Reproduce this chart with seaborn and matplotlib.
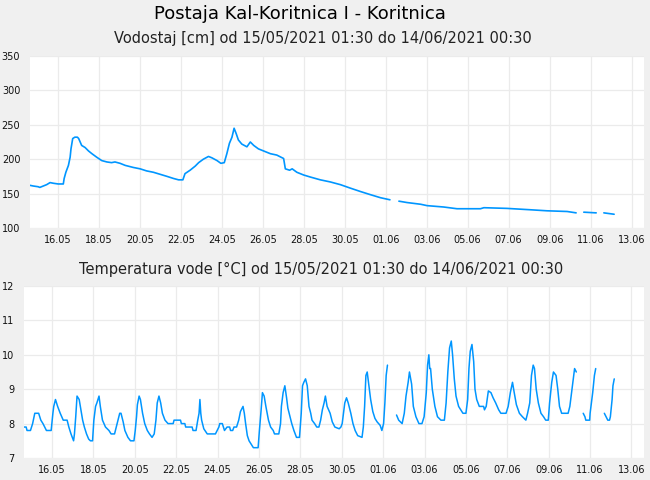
import numpy as np
import pandas as pd
import matplotlib
matplotlib.use("Agg")
import matplotlib.pyplot as plt
import seaborn as sns

# vodostaj [cm], None = missing data (line break)
level_times = [
    "05-15 01:30", "05-15 05:30", "05-15 11:00", "05-15 13:00", "05-15 17:00", "05-15 21:00",
    "05-16 01:00", "05-16 05:00", "05-16 10:30", "05-16 16:30", "05-16 17:30", "05-16 19:30",
    "05-16 22:30", "05-17 00:30", "05-17 01:30", "05-17 03:30", "05-17 06:00", "05-17 09:00",
    "05-17 10:30", "05-17 14:00", "05-17 18:00", "05-17 22:00", "05-18 02:00", "05-18 07:30",
    "05-18 13:30", "05-18 19:30", "05-19 01:00", "05-19 05:00", "05-19 11:00", "05-19 17:00",
    "05-20 02:30", "05-20 10:30", "05-20 18:00", "05-21 02:00", "05-21 10:00", "05-21 18:00",
    "05-22 01:30", "05-22 07:30", "05-22 12:30", "05-22 15:00", "05-22 21:00", "05-23 03:00",
    "05-23 07:00", "05-23 12:30", "05-23 18:30", "05-23 22:30", "05-24 04:30", "05-24 09:00",
    "05-24 13:00", "05-24 16:00", "05-24 19:00", "05-24 22:00", "05-25 00:30", "05-25 03:00",
    "05-25 05:30", "05-25 09:30", "05-25 15:30", "05-25 19:30", "05-25 23:30", "05-26 05:00",
    "05-26 11:00", "05-26 19:00", "05-27 02:30", "05-27 10:30", "05-27 12:30", "05-27 17:30",
    "05-27 20:30", "05-28 02:00", "05-28 10:00", "05-28 18:00", "05-29 05:30", "05-29 17:00",
    "05-30 05:00", "05-30 16:30", "05-31 04:30", "05-31 16:00", "06-01 04:00", "06-01 15:00",
    "06-01 20:00",
    "06-02 01:30", "06-02 11:00", "06-03 03:00", "06-03 10:30", "06-04 06:00", "06-04 21:30",
    "06-06 01:00", "06-06 05:00", "06-07 08:00", "06-08 11:30", "06-09 07:00", "06-10 06:30",
    "06-10 17:00",
    "06-10 21:00",
    "06-11 02:00", "06-11 16:30",
    "06-11 21:00",
    "06-12 01:30", "06-12 13:30",
]
level_cm = [
    162, 161, 160, 159, 161, 163,
    166, 165, 164, 164, 172, 181,
    191, 203, 215, 230, 232, 232,
    230, 220, 217, 212, 208, 203,
    198, 196, 195, 196, 194, 191,
    188, 186, 183, 181, 178, 175,
    172, 170, 170, 179, 184, 190,
    195, 200, 204, 202, 198, 194,
    195, 208, 223, 232, 245, 237,
    228, 222, 218, 225, 220, 215,
    212, 208, 206, 201, 186, 184,
    186, 181, 177, 174, 170, 167,
    163, 158, 153, 148.5, 144, 141,
    None,
    139, 137, 134.5, 132.5, 130.5, 128,
    128, 129.5, 128.5, 126.5, 125, 124,
    122,
    None,
    123, 122,
    None,
    122, 120,
]

# temperatura vode [°C]
temp_times = [
    "05-15 01:30", "05-15 04:00", "05-15 05:00", "05-15 09:00", "05-15 11:30", "05-15 14:00",
    "05-15 18:30", "05-15 21:00", "05-15 23:30", "05-16 03:30", "05-16 09:00", "05-16 11:00",
    "05-16 12:00", "05-16 14:00", "05-16 16:30", "05-16 19:30", "05-16 23:00", "05-17 03:30",
    "05-17 05:30", "05-17 08:00", "05-17 11:00", "05-17 12:00", "05-17 13:30", "05-17 15:00",
    "05-17 17:30", "05-17 19:30", "05-17 21:30", "05-17 23:30", "05-18 02:00", "05-18 04:30",
    "05-18 06:30", "05-18 09:00", "05-18 10:30", "05-18 12:30", "05-18 14:00", "05-18 16:30",
    "05-18 18:00", "05-18 20:30", "05-19 00:00", "05-19 04:00", "05-19 06:30", "05-19 10:30",
    "05-19 13:30", "05-19 16:30", "05-19 18:00", "05-19 20:30", "05-19 22:30", "05-20 02:00",
    "05-20 05:00", "05-20 09:00", "05-20 10:30", "05-20 12:00", "05-20 13:00", "05-20 15:00",
    "05-20 16:30", "05-20 19:00", "05-20 21:30", "05-21 00:30", "05-21 03:00", "05-21 06:00",
    "05-21 08:30", "05-21 10:30", "05-21 12:00", "05-21 14:00", "05-21 16:00", "05-21 18:00",
    "05-21 21:00", "05-22 00:30", "05-22 06:30", "05-22 07:30", "05-22 15:00", "05-22 16:00",
    "05-22 20:00", "05-22 21:00", "05-23 04:30", "05-23 05:30", "05-23 09:00", "05-23 11:00",
    "05-23 12:30", "05-23 13:30", "05-23 14:30", "05-23 15:30", "05-23 18:00", "05-23 22:00",
    "05-24 07:30", "05-24 09:30", "05-24 11:30", "05-24 12:30", "05-24 15:30", "05-24 18:00",
    "05-24 21:00", "05-25 00:00", "05-25 01:00", "05-25 03:30", "05-25 05:00", "05-25 08:00",
    "05-25 10:30", "05-25 12:30", "05-25 15:30", "05-25 17:00", "05-25 18:30", "05-25 20:30",
    "05-25 22:30", "05-26 01:00", "05-26 03:30", "05-26 09:00", "05-26 10:30", "05-26 12:30",
    "05-26 14:00", "05-26 16:00", "05-26 18:00", "05-26 21:00", "05-26 23:30", "05-27 02:30",
    "05-27 04:00", "05-27 09:00", "05-27 11:00", "05-27 12:00", "05-27 14:00", "05-27 16:00",
    "05-27 18:00", "05-27 19:30", "05-27 22:00", "05-28 00:00", "05-28 02:30", "05-28 05:30",
    "05-28 09:00", "05-28 11:00", "05-28 12:30", "05-28 14:00", "05-28 16:00", "05-28 18:00",
    "05-28 20:00", "05-28 22:00", "05-28 23:30", "05-29 02:30", "05-29 05:00", "05-29 07:30",
    "05-29 09:30", "05-29 11:30", "05-29 13:30", "05-29 15:00", "05-29 17:00", "05-29 20:30",
    "05-29 23:00", "05-30 02:00", "05-30 07:00", "05-30 09:00", "05-30 10:30", "05-30 12:00",
    "05-30 13:30", "05-30 15:30", "05-30 17:30", "05-30 20:30", "05-30 23:00", "05-31 01:30",
    "05-31 04:30", "05-31 09:30", "05-31 11:00", "05-31 12:30", "05-31 14:00", "05-31 15:30",
    "05-31 17:00", "05-31 19:30", "05-31 22:00", "06-01 00:30", "06-01 03:00", "06-01 06:30",
    "06-01 08:30", "06-01 10:30", "06-01 12:00", "06-01 13:30", "06-01 15:00",
    "06-01 20:00",
    "06-02 01:30", "06-02 04:00", "06-02 08:00", "06-02 10:30", "06-02 12:30", "06-02 15:00",
    "06-02 16:30", "06-02 19:00", "06-02 21:00", "06-03 00:00", "06-03 03:30", "06-03 07:00",
    "06-03 09:30", "06-03 12:00", "06-03 13:30", "06-03 15:00", "06-03 16:00", "06-03 17:00",
    "06-03 19:00", "06-03 22:00", "06-04 01:00", "06-04 05:00", "06-04 09:00", "06-04 11:00",
    "06-04 13:00", "06-04 15:00", "06-04 17:00", "06-04 18:30", "06-04 20:30", "06-04 22:30",
    "06-05 01:30", "06-05 04:00", "06-05 06:30", "06-05 10:00", "06-05 12:00", "06-05 13:30",
    "06-05 15:00", "06-05 17:00", "06-05 19:00", "06-05 20:30", "06-05 22:30", "06-06 01:30",
    "06-06 06:30", "06-06 07:30", "06-06 09:30", "06-06 12:00", "06-06 15:00", "06-06 17:30",
    "06-06 20:30", "06-07 00:00", "06-07 02:30", "06-07 08:30", "06-07 11:00", "06-07 13:30",
    "06-07 16:00", "06-07 18:00", "06-07 20:30", "06-08 00:00", "06-08 03:30", "06-08 07:30",
    "06-08 09:30", "06-08 12:00", "06-08 14:00", "06-08 16:00", "06-08 17:30", "06-08 19:30",
    "06-08 22:00", "06-09 01:00", "06-09 04:00", "06-09 06:30", "06-09 09:30", "06-09 11:00",
    "06-09 13:30", "06-09 15:30", "06-09 18:30", "06-09 20:30", "06-09 22:30", "06-10 01:00",
    "06-10 03:00", "06-10 08:30", "06-10 10:30", "06-10 12:30", "06-10 14:30", "06-10 16:00",
    "06-10 18:00",
    "06-10 21:00",
    "06-11 02:00", "06-11 04:00", "06-11 05:00", "06-11 09:30", "06-11 10:00", "06-11 13:00",
    "06-11 15:00", "06-11 16:30",
    "06-11 21:00",
    "06-12 02:30", "06-12 04:30", "06-12 06:30", "06-12 08:30", "06-12 09:30", "06-12 11:30",
    "06-12 12:30", "06-12 14:00",
]
temp_c = [
    7.9, 7.9, 7.8, 7.8, 8.0, 8.3,
    8.3, 8.1, 8.0, 7.8, 7.8, 8.3,
    8.5, 8.7, 8.5, 8.3, 8.1, 8.1,
    7.9, 7.7, 7.5, 7.7, 8.2, 8.8,
    8.7, 8.4, 8.1, 7.9, 7.7, 7.55,
    7.5, 7.5, 8.1, 8.5, 8.6, 8.8,
    8.5, 8.1, 7.9, 7.8, 7.7, 7.7,
    8.0, 8.3, 8.3, 8.05, 7.8, 7.6,
    7.5, 7.5, 7.8, 8.2, 8.55, 8.8,
    8.7, 8.3, 8.0, 7.8, 7.7, 7.6,
    7.7, 8.1, 8.6, 8.8, 8.6, 8.3,
    8.1, 8.0, 8.0, 8.1, 8.1, 8.0,
    8.0, 7.9, 7.9, 7.8, 7.8, 8.1,
    8.3, 8.7, 8.3, 8.1, 7.85, 7.7,
    7.7, 7.8, 7.9, 8.0, 8.0, 7.8,
    7.9, 7.9, 7.8, 7.8, 7.9, 7.9,
    8.1, 8.35, 8.5, 8.3, 8.0, 7.65,
    7.5, 7.4, 7.3, 7.3, 7.8, 8.4,
    8.9, 8.8, 8.5, 8.1, 7.9, 7.8,
    7.7, 7.7, 8.0, 8.5, 8.9, 9.1,
    8.75, 8.45, 8.2, 8.0, 7.8, 7.6,
    7.6, 8.3, 9.1, 9.2, 9.3, 9.1,
    8.5, 8.3, 8.1, 8.0, 7.9, 7.9,
    8.1, 8.4, 8.6, 8.8, 8.5, 8.3,
    8.05, 7.9, 7.85, 7.9, 8.0, 8.3,
    8.6, 8.75, 8.6, 8.3, 8.0, 7.8,
    7.65, 7.6, 7.9, 8.5, 9.4, 9.5,
    9.2, 8.7, 8.35, 8.15, 8.05, 7.95,
    7.8, 8.0, 8.6, 9.4, 9.7,
    None,
    8.25, 8.1, 8.0, 8.3, 8.8, 9.2,
    9.5, 9.15, 8.5, 8.2, 8.0, 8.0,
    8.2, 8.9, 9.7, 10.0, 9.6, 9.6,
    9.0, 8.5, 8.2, 8.1, 8.1, 8.6,
    9.5, 10.2, 10.4, 10.0, 9.3, 8.8,
    8.5, 8.4, 8.3, 8.3, 8.7, 9.6,
    10.1, 10.3, 9.8, 9.0, 8.7, 8.5,
    8.5, 8.4, 8.5, 8.95, 8.9, 8.75,
    8.6, 8.4, 8.3, 8.3, 8.5, 8.9,
    9.2, 8.9, 8.55, 8.3, 8.2, 8.1,
    8.3, 8.6, 9.4, 9.7, 9.6, 9.0,
    8.6, 8.3, 8.2, 8.1, 8.1, 8.6,
    9.2, 9.5, 9.4, 9.0, 8.5, 8.3,
    8.3, 8.3, 8.5, 8.9, 9.3, 9.6,
    9.5,
    None,
    8.3, 8.2, 8.1, 8.1, 8.3, 8.9,
    9.4, 9.6,
    None,
    8.3, 8.2, 8.1, 8.1, 8.2, 8.7,
    9.1, 9.3,
]

period = "od 15/05/2021 01:30 do 14/06/2021 00:30"


def make_frame(times, values):
    df = pd.DataFrame({"time": pd.to_datetime(["2021-" + t for t in times]),
                       "value": pd.Series(values, dtype="float")})
    # every missing value starts a new line piece
    df["seg"] = df["value"].isna().cumsum()
    return df.dropna()


level = make_frame(level_times, level_cm)
temp = make_frame(temp_times, temp_c)

sns.set_style("whitegrid", {"grid.color": "#ebebeb", "axes.edgecolor": "white",
                            "axes.facecolor": "white"})
plt.rcParams["font.family"] = ["DejaVu Sans"]

fig = plt.figure(figsize=(6.5, 4.8), dpi=100, facecolor="#f0f0f0")
ax1 = fig.add_axes([30 / 650, 1 - 228 / 480, 614 / 650, 172 / 480])
ax2 = fig.add_axes([24 / 650, 1 - 458 / 480, 620 / 650, 172 / 480])

line_color = "#0096ff"
sns.lineplot(data=level, x="time", y="value", units="seg", estimator=None,
             color=line_color, linewidth=1.2, ax=ax1, legend=False)
sns.lineplot(data=temp, x="time", y="value", units="seg", estimator=None,
             color=line_color, linewidth=1.1, ax=ax2, legend=False)

ticks = pd.date_range("2021-05-16 10:00", "2021-06-13 10:00", freq="2D")
for ax, yt in [(ax1, range(100, 351, 50)), (ax2, range(7, 13))]:
    ax.set_xlim(pd.Timestamp("2021-05-15 01:30"), pd.Timestamp("2021-06-14 00:30"))
    ax.set_xticks(ticks)
    ax.set_xticklabels([t.strftime("%d.%m") for t in ticks])
    ax.set_yticks(list(yt))
    ax.set_ylim(yt[0], yt[-1])
    ax.set_xlabel("")
    ax.set_ylabel("")
    ax.tick_params(length=0, labelsize=7, colors="#111111")
    ax.tick_params(axis="x", pad=5)
    ax.tick_params(axis="y", pad=7)
    ax.grid(True, color="#ebebeb", linewidth=0.9)
    for s in ax.spines.values():
        s.set_visible(False)

fig.text(300 / 650, 1 - 14 / 480, "Postaja Kal-Koritnica I - Koritnica",
         ha="center", va="center", fontsize=13, color="#000000")
fig.text(323 / 650, 1 - 39 / 480, "Vodostaj [cm] " + period,
         ha="center", va="center", fontsize=10.5, color="#222222")
fig.text(321 / 650, 1 - 269 / 480, "Temperatura vode [°C] " + period,
         ha="center", va="center", fontsize=10.5, color="#222222")

fig.savefig("out.png", dpi=100, facecolor=fig.get_facecolor())
